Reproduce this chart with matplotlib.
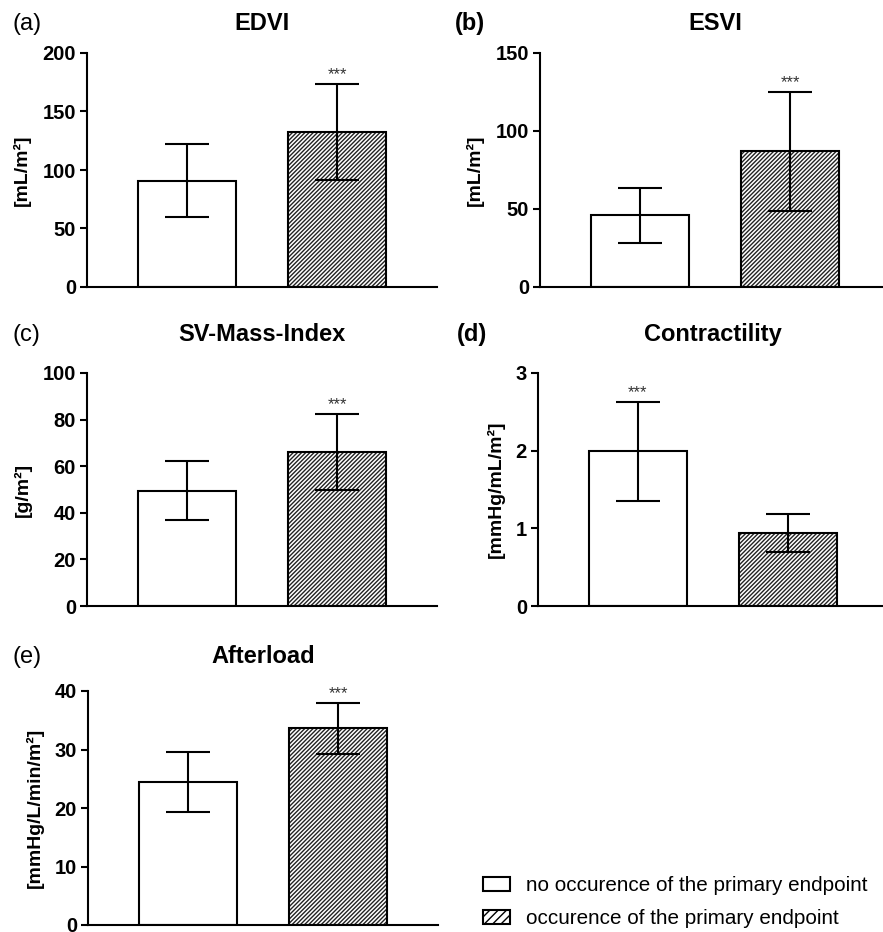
import matplotlib
matplotlib.use('Agg')
import matplotlib.pyplot as plt
from matplotlib.patches import Patch

plt.rcParams['font.family'] = ['Liberation Sans', 'DejaVu Sans']
plt.rcParams['hatch.linewidth'] = 1.0

groups = ['no occurence of the primary endpoint', 'occurence of the primary endpoint']
panels = ['(a)', '(b)', '(c)', '(d)', '(e)']
titles = ['EDVI', 'ESVI', 'SV-Mass-Index', 'Contractility', 'Afterload']
ylabels = ['[mL/m²]', '[mL/m²]', '[g/m²]', '[mmHg/mL/m²]', '[mmHg/L/min/m²]']
ymax = [200, 150, 100, 3, 40]
ystep = [50, 50, 20, 1, 10]
means = [[91, 132.5], [46, 87], [49.5, 66], [1.99, 0.94], [24.5, 33.6]]
sds = [[31, 41], [17.5, 38], [12.6, 16.4], [0.64, 0.25], [5.1, 4.4]]
star_at = [1, 1, 1, 0, 1]

W, H = 883, 932
fig = plt.figure(figsize=(W / 100, H / 100), dpi=100)

# axes boxes in pixels: left, top, right, bottom
boxes = [(87, 53, 437, 287), (540, 53, 890, 287),
         (87, 373, 437, 606), (538, 373, 888, 606),
         (88, 691, 438, 925)]
title_pads = [16.5, 16.5, 23, 23, 20]
label_pos = [(13, 30), (455, 30), (13, 341), (457, 341), (13, 663)]
label_bold = [False, True, False, True, False]

lw = 1.5
hatch = '////////'
for i in range(5):
    l, t, r, b = boxes[i]
    ax = fig.add_axes([l / W, 1 - b / H, (r - l) / W, (b - t) / H])
    x = [0, 1]
    ax.bar(x[0], means[i][0], width=0.65, color='white', edgecolor='black', linewidth=lw, zorder=2)
    ax.bar(x[1], means[i][1], width=0.65, color='white', edgecolor='#222222', linewidth=0, hatch=hatch, zorder=2)
    ax.bar(x[1], means[i][1], width=0.65, fill=False, edgecolor='black', linewidth=lw, zorder=3)
    ax.errorbar(x, means[i], yerr=sds[i], fmt='none', ecolor='black', elinewidth=lw,
                capsize=16, capthick=lw, zorder=4)
    k = star_at[i]
    ax.annotate('***', xy=(x[k], means[i][k] + sds[i][k]), xytext=(0, 1),
                textcoords='offset points', ha='center', va='bottom', fontsize=12, color='#333333')
    ax.set_xlim(-0.66, 1.66)
    ax.set_ylim(0, ymax[i])
    ax.set_yticks([v * ystep[i] for v in range(int(round(ymax[i] / ystep[i])) + 1)])
    ax.set_xticks([])
    for s in ['top', 'right']:
        ax.spines[s].set_visible(False)
    for s in ['left', 'bottom']:
        ax.spines[s].set_linewidth(lw)
    ax.tick_params(axis='y', length=5, width=lw, labelsize=14.5, pad=3)
    for lab in ax.get_yticklabels():
        lab.set_fontweight('bold')
    ax.set_ylabel(ylabels[i], fontsize=14, fontweight='bold', labelpad=8)
    ax.set_title(titles[i], fontsize=17, fontweight='bold', pad=title_pads[i])
    px, py = label_pos[i]
    fig.text(px / W, 1 - py / H, panels[i], fontsize=17,
             fontweight='bold' if label_bold[i] else 'normal', ha='left', va='baseline')

handles = [Patch(facecolor='white', edgecolor='black', linewidth=lw),
           Patch(facecolor='white', edgecolor='black', linewidth=lw, hatch='////')]
fig.legend(handles, groups, loc='upper left', bbox_to_anchor=(475 / W, 1 - 868 / H),
           frameon=False, fontsize=14.9, handlelength=1.3, handleheight=0.6,
           labelspacing=0.68, handletextpad=0.75, borderaxespad=0)

fig.savefig('out.png', dpi=100)
